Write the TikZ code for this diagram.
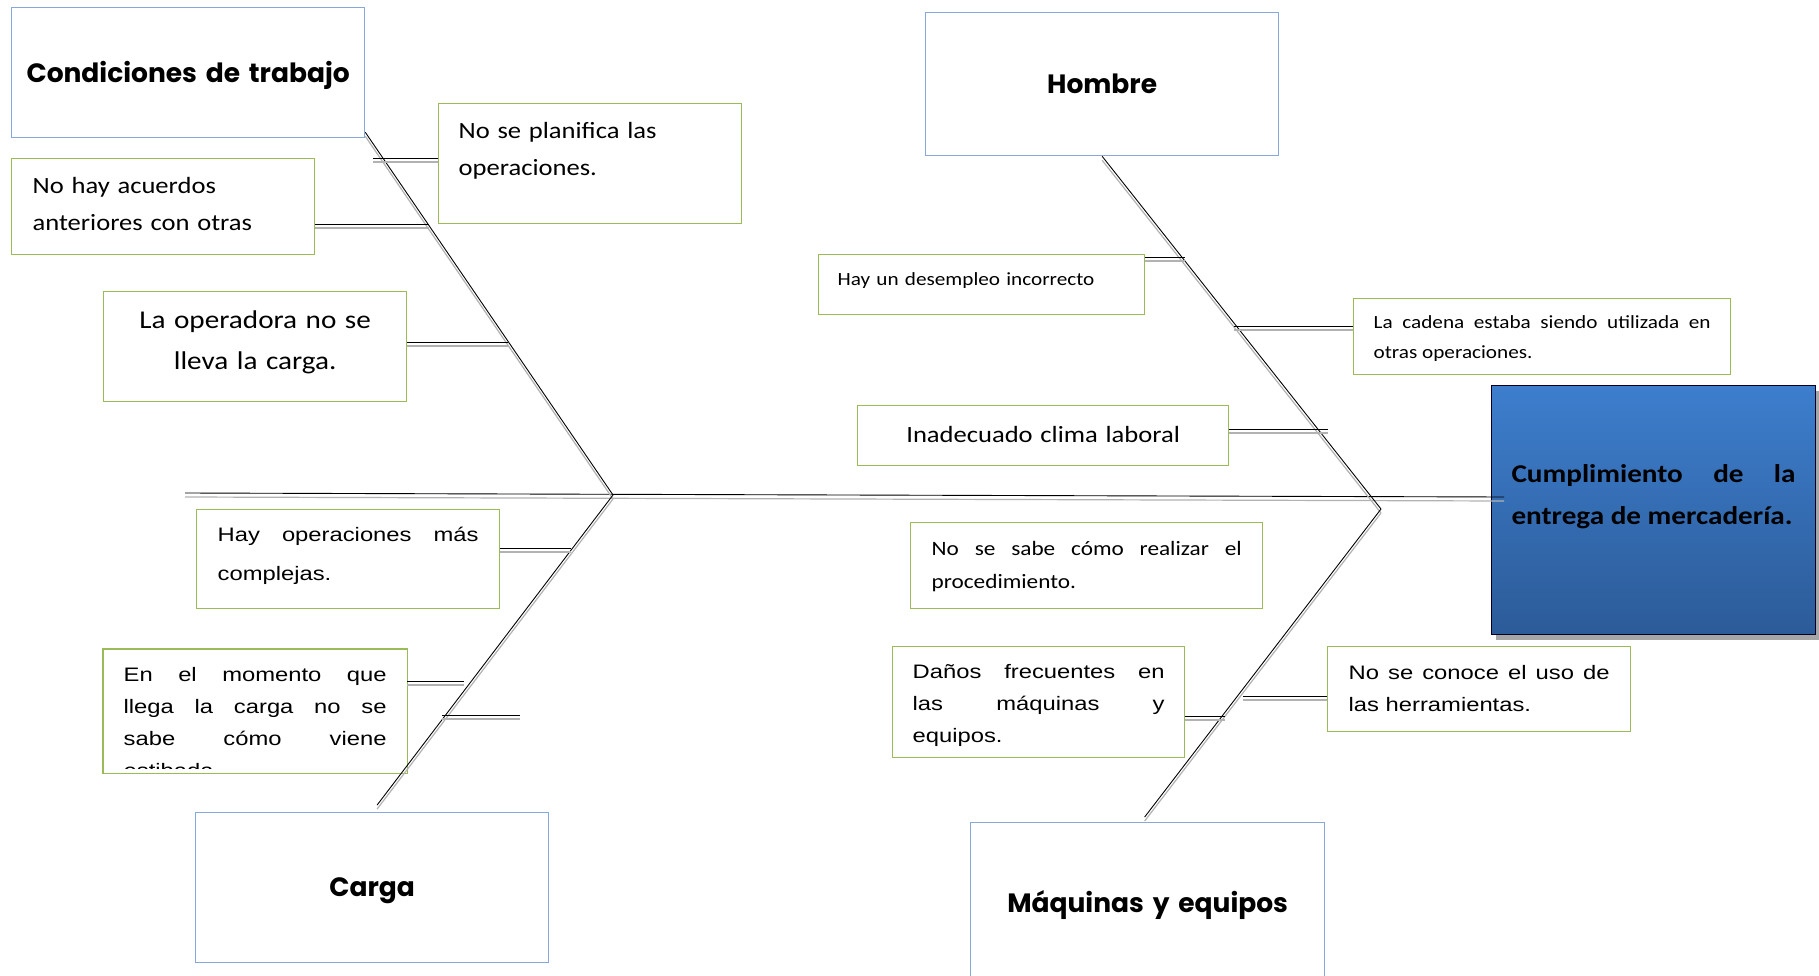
\documentclass[tikz,border=0pt]{standalone}
\usepackage{fontspec}
\setmainfont{Carlito}[FakeStretch=1.14]
\newfontfamily\arialfont{Liberation Sans}[FakeStretch=1.22]
\newfontfamily\headfont{Poppins}
\usetikzlibrary{shadows}

\definecolor{causegreen}{HTML}{9BBB59}
\definecolor{catblue}{HTML}{86A8DA}
\definecolor{efftop}{HTML}{3D7ECD}
\definecolor{effbot}{HTML}{2C5B98}

\tikzset{
	catbox/.style = {draw=catblue, line width=1.3pt, anchor=north west, inner sep=0pt, align=center, font=\headfont\bfseries\fontsize{26.5}{31}\selectfont},
	cause/.style = {draw=causegreen, line width=1.3pt, anchor=north west, inner ysep=0pt},
	calib/.style 2 args = {font=\fontsize{#1}{#2}\selectfont},
	arial/.style 2 args = {font=\arialfont\fontsize{#1}{#2}\selectfont},
	effect/.style = {draw=black!85!blue, line width=1pt, top color=efftop, bottom color=effbot, anchor=north west, inner ysep=0pt, align=justify, font=\bfseries\fontsize{25.6}{41.5}\selectfont, drop shadow={shadow xshift=4pt, shadow yshift=-5pt, fill=black!35, opacity=1}},
	bone/.style = {black, line width=0.9pt, preaction={draw=black!30, line width=1.2pt, transform canvas={yshift=-4pt}}}
}

\begin{document}
\begin{tikzpicture}[x=1pt, y=-1pt]
	\useasboundingbox (0,0) rectangle (1819,976);

	% categories
	\node[catbox, text width=353pt, text height=75pt, text depth=55pt] (cond) at (11,7) {Condiciones de trabajo};
	\node[catbox, text width=353pt, text height=81pt, text depth=62pt] (hombre) at (925,12) {Hombre};
	\node[catbox, text width=353pt, text height=84pt, text depth=66pt] (carga) at (195,812) {Carga};
	\node[catbox, text width=354pt, text height=90pt, text depth=70pt] (maq) at (970,822) {Máquinas y equipos};

	% effect
	\node[effect, text width=284pt, inner xsep=20pt, text height=97pt, text depth=152pt] (eff) at (1491,385) {Cumplimiento de la\linebreak entrega de mercadería.};

	% causes
	\node[cause, calib={23.3}{37}, align=left, text width=263pt, inner xsep=20pt, text height=35pt, text depth=85pt] (plan) at (438,103) {No se planifica las\\operaciones.};
	\node[cause, calib={23.3}{37}, align=left, text width=261pt, inner xsep=21pt, text height=35pt, text depth=61pt] (acu) at (11,158) {No hay acuerdos\\anteriores con otras};
	\node[cause, calib={25.6}{41}, align=center, text width=273pt, inner xsep=15pt, text height=37pt, text depth=73pt] (oper) at (103,291) {La operadora no se\\lleva la carga.};
	\node[cause, arial={19.5}{39}, align=justify, text width=261pt, inner xsep=21pt, text height=32pt, text depth=67pt] (compl) at (196,509) {Hay operaciones más\linebreak complejas.};
	\begin{scope}
		\clip (95,640) rectangle (415,768);
		\node[cause, draw=none, arial={19.5}{32}, align=justify, text width=263pt, inner xsep=20pt, text height=32pt, text depth=91pt] (mom) at (103,649) {En el momento que\linebreak llega la carga no se\linebreak sabe cómo viene\linebreak estibada.};
	\end{scope}
	\draw[causegreen, line width=1.3pt] (mom.north west) rectangle (mom.south east);

	\node[cause, calib={18.6}{30}, align=left, text width=288pt, inner xsep=19pt, text height=31pt, text depth=29pt] (desem) at (818,254) {Hay un desempleo incorrecto};
	\node[cause, calib={18.6}{30}, align=justify, text width=337pt, inner xsep=20pt, text height=30pt, text depth=46pt] (cadena) at (1353,298) {La cadena estaba siendo utilizada en\linebreak otras operaciones.};
	\node[cause, calib={23.3}{37}, align=center, text width=341pt, inner xsep=15pt, text height=37pt, text depth=23pt] (clima) at (857,405) {Inadecuado clima laboral};
	\node[cause, calib={20.4}{33}, align=justify, text width=310pt, inner xsep=21pt, text height=33pt, text depth=53pt] (sabe) at (910,522) {No se sabe cómo realizar el\linebreak procedimiento.};
	\node[cause, arial={19.5}{32}, align=justify, text width=252pt, inner xsep=20pt, text height=32pt, text depth=79pt] (danos) at (892,646) {Daños frecuentes en\linebreak las máquinas y\linebreak equipos.};
	\node[cause, arial={19.5}{32}, align=justify, text width=261pt, inner xsep=21pt, text height=33pt, text depth=52pt] (conoce) at (1327,646) {No se conoce el uso de\linebreak las herramientas.};

	% spine and bones
	\coordinate (tail) at (185,493);
	\coordinate (head) at (1504,497);
	\coordinate (jl) at (613,495);
	\coordinate (jr) at (1381,509);
	\draw[bone] (tail) -- (head);
	\draw[bone] ([yshift=6pt]cond.south east) -- (jl);
	\draw[bone] (jl) -- ([shift={(5pt,7pt)}]carga.north);
	\draw[bone] (hombre.south) -- (jr);
	\draw[bone] (jr) -- ([shift={(-3pt,5pt)}]maq.north);

	% small bones
	\coordinate (c1) at (373,158);
	\coordinate (c2) at (429,224);
	\coordinate (c3) at (508,342);
	\coordinate (c4) at (571,548);
	\coordinate (c5) at (464,681);
	\coordinate (s1) at (442,715);
	\coordinate (s2) at (520,715);
	\coordinate (c6) at (1185,257);
	\coordinate (c7) at (1234,326);
	\coordinate (c8) at (1328,429);
	\coordinate (c9) at (1225,716);
	\coordinate (c10) at (1243,696);
	\draw[bone] (c1) -- (c1 -| plan.west);
	\draw[bone] (c2 -| acu.east) -- (c2);
	\draw[bone] (c3 -| oper.east) -- (c3);
	\draw[bone] (c4 -| compl.east) -- (c4);
	\draw[bone] (c5 -| mom.east) -- (c5);
	\draw[bone] (s1) -- (s2);
	\draw[bone] (c6 -| desem.east) -- (c6);
	\draw[bone] (c7) -- (c7 -| cadena.west);
	\draw[bone] (c8 -| clima.east) -- (c8);
	\draw[bone] (c9 -| danos.east) -- (c9);
	\draw[bone] (c10) -- (c10 -| conoce.west);
\end{tikzpicture}
\end{document}
